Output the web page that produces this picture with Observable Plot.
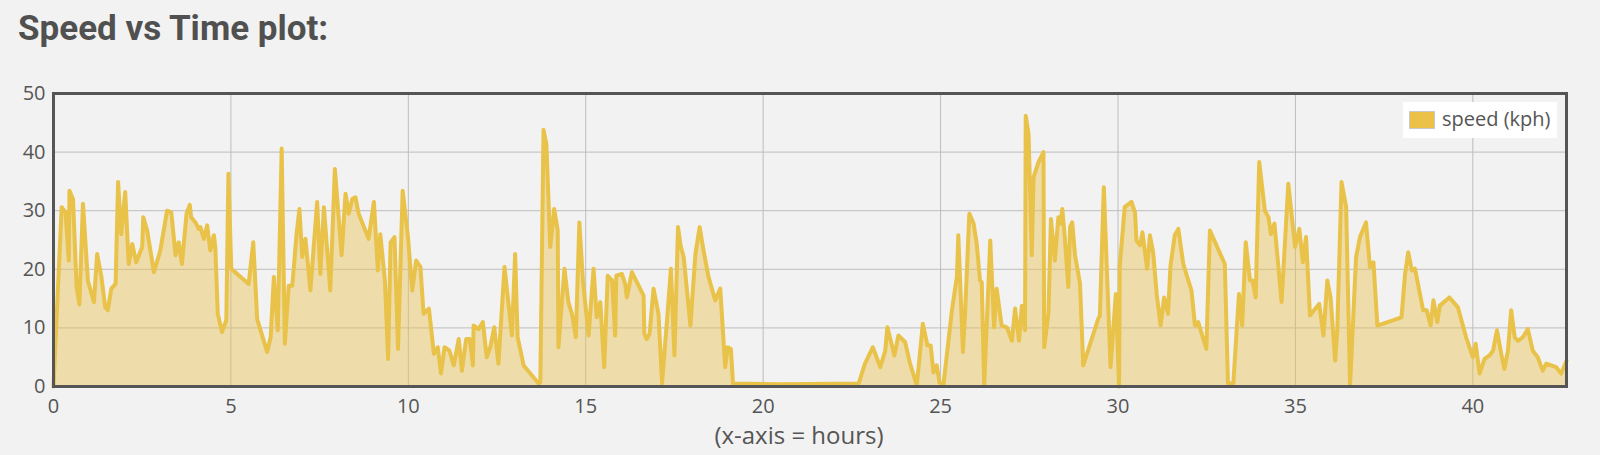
<!DOCTYPE html>
<html>
<head>
<meta charset="utf-8">
<script src="https://cdn.jsdelivr.net/npm/d3@7"></script>
<script src="https://cdn.jsdelivr.net/npm/@observablehq/plot@0.6"></script>
<style>
  html, body { margin: 0; padding: 0; background: #f2f2f2; }
  body { width: 1600px; height: 455px; position: relative; overflow: hidden; font-family: "Open Sans", sans-serif; }
  #title { height: 70px; position: relative; }
  #title span { position: absolute; left: 18px; top: 8px; font-family: "Roboto", sans-serif; font-weight: bold; font-size: 35px; color: #505050; white-space: nowrap; }
  #legend { position: absolute; left: 1403px; top: 102px; width: 154px; height: 36px; background: #fff; }
  #legend .sw { position: absolute; left: 6px; top: 9px; width: 24px; height: 16px; background: #ebc247; border: 1px solid #c9c9c9; }
  #legend .tx { position: absolute; left: 39px; top: 3px; font-size: 20px; color: #555; line-height: 28px; white-space: nowrap; }
</style>
</head>
<body>
<div id="title"><span>Speed vs Time plot:</span></div>
<div id="chart"></div>
<div id="legend"><div class="sw"></div><div class="tx">speed (kph)</div></div>
<script>
const hours = [0,0.23,0.34,0.43,0.45,0.55,0.65,0.73,0.83,0.97,1.14,1.23,1.35,1.46,1.53,1.63,1.75,1.82,1.91,2.02,2.12,2.22,2.33,2.5,2.53,2.64,2.83,3.01,3.2,3.32,3.44,3.53,3.62,3.75,3.84,3.88,4.0,4.09,4.14,4.24,4.33,4.42,4.52,4.56,4.63,4.75,4.87,4.93,5.01,5.5,5.63,5.74,6.02,6.12,6.21,6.32,6.43,6.52,6.63,6.73,6.85,6.93,7.01,7.1,7.24,7.43,7.52,7.62,7.8,7.93,8.12,8.23,8.32,8.42,8.51,8.6,8.88,9.03,9.14,9.21,9.34,9.43,9.5,9.61,9.71,9.84,9.99,10.11,10.22,10.34,10.43,10.58,10.72,10.83,10.92,11.02,11.16,11.28,11.42,11.51,11.63,11.73,11.82,11.84,11.98,12.1,12.21,12.31,12.42,12.54,12.71,12.92,13.01,13.08,13.25,13.67,13.72,13.81,13.89,14.0,14.11,14.21,14.23,14.4,14.51,14.61,14.72,14.82,14.92,15.08,15.22,15.31,15.41,15.52,15.62,15.74,15.83,15.86,16.02,16.11,16.16,16.3,16.63,16.65,16.72,16.8,16.91,17.05,17.15,17.29,17.4,17.5,17.6,17.67,17.76,17.95,18.09,18.21,18.32,18.46,18.65,18.79,18.93,19.0,19.09,19.15,20.5,22.69,22.87,23.09,23.3,23.44,23.5,23.7,23.81,24.0,24.14,24.33,24.5,24.63,24.72,24.8,24.89,24.97,25.08,25.32,25.46,25.5,25.63,25.69,25.81,25.93,26.02,26.11,26.16,26.23,26.4,26.51,26.58,26.72,26.87,27.01,27.1,27.21,27.29,27.38,27.4,27.48,27.57,27.62,27.76,27.9,27.92,28.04,28.11,28.22,28.32,28.38,28.43,28.5,28.6,28.65,28.71,28.79,28.93,29.02,29.44,29.49,29.6,29.79,29.94,30.03,30.05,30.19,30.38,30.48,30.52,30.62,30.69,30.82,30.9,30.99,31.09,31.2,31.3,31.41,31.48,31.6,31.7,31.84,31.98,32.07,32.17,32.26,32.49,32.59,33.01,33.1,33.25,33.41,33.5,33.6,33.72,33.79,33.88,33.98,34.14,34.24,34.31,34.41,34.61,34.8,34.99,35.11,35.21,35.3,35.41,35.67,35.79,35.9,35.99,36.12,36.18,36.3,36.43,36.54,36.71,36.82,36.99,37.1,37.2,37.31,37.99,38.09,38.18,38.28,38.37,38.6,38.7,38.81,38.89,39.0,39.07,39.34,39.58,39.81,40.0,40.08,40.19,40.33,40.47,40.57,40.68,40.8,40.89,40.99,41.08,41.18,41.27,41.41,41.55,41.69,41.83,41.97,42.07,42.21,42.35,42.49,42.64];
const speed = [0,30.6,29.7,21.5,33.4,32,17,14,31.2,18,14.4,22.6,18.7,13.5,13,16.7,17.5,34.9,26,33.2,20.9,24.3,21.2,23.8,28.9,26.6,19.5,23.2,30,29.7,22.4,24.6,20.9,29.5,31,28.9,28,26.9,27.2,25.2,27.5,23.2,25.8,23.8,12.4,9.3,11.3,36.3,20.1,17.5,24.6,11.5,5.9,8.4,18.7,9.6,40.6,7.3,17.2,17.2,26,30.3,22.1,25.2,16.4,31.5,19.2,30.6,16.4,37.1,22.4,32.9,29.5,32,32.3,29.5,25.2,31.5,19.8,26,18.1,4.7,24.6,25.5,6.4,33.4,25.5,16.4,21.5,20.4,12.4,13.3,5.6,6.7,2.2,6.7,6.1,3.6,8.1,2.7,8.1,8.1,3.6,10.4,9.8,11,5,6.7,10.1,3.9,20.4,8.7,22.6,8.4,3.6,0.5,0.7,43.8,41.4,23.8,30.3,26.6,6.7,20.1,14.4,12.4,8.4,28,18.1,8.7,20.1,11.8,14.4,3.3,18.9,18.1,8.7,18.9,19.2,17.5,15.2,19.5,15.5,9,8.1,9,16.7,12.4,0.5,11.3,20.1,5.3,27.2,24.1,22.1,10.4,22.6,27.2,23.2,18.7,14.7,16.7,3.3,6.7,6.4,0.5,0.4,0.5,3.9,6.7,3.3,6.1,10.1,5.3,8.7,7.6,3.9,0.2,10.7,7,7,2.4,3.6,0.7,0.2,13,18.7,25.8,5.9,12.4,29.5,27.8,24.3,18.1,17.8,0.2,24.9,10.1,16.7,10.4,10.1,7.8,13.3,7.8,13.8,9.6,46.2,43.1,22.4,35.7,38.3,40,6.7,12.4,28.6,21.5,28.9,27.8,30.3,25.5,17,27.2,28,22.4,17.5,3.6,11.5,12.1,34,3.3,15.8,0,20.6,30.6,31.5,29.7,24.9,24.1,26.3,20.1,25.8,22.9,15.8,10.4,15.2,12.4,20.6,25.8,26.9,20.9,18.1,16.4,10.4,11,6.4,26.6,20.9,0.5,0.5,15.8,10.4,24.6,18.1,18.1,15.2,38.3,30,28.9,26,27.8,14.4,34.6,23.8,26.9,21.2,25.5,12.1,14.1,8.7,18.1,15.2,4.4,9.6,34.9,30.6,0.2,22.1,25.5,28,20.4,21.2,10.4,11.8,19.2,22.9,19.8,20.1,13,13,10.4,14.7,11,13.8,15.2,13.5,8.4,5,7.3,2.2,4.7,5.3,6.1,9.6,5.6,3,6.1,13,8.4,7.8,8.4,9.8,6.1,5,2.7,3.9,3.6,3.3,2.2,4.4];
const xTicks = [0, 5, 10, 15, 20, 25, 30, 35, 40];
const yTicks = [0, 10, 20, 30, 40, 50];
const xLabel = "(x-axis = hours)";

const data = hours.map((h, i) => ({h, s: speed[i]}));
const gold = "#e9c24a";

const chart = Plot.plot({
  width: 1600,
  height: 385,
  marginTop: 23,
  marginBottom: 69,
  marginLeft: 53,
  marginRight: 34,
  style: {background: "transparent", fontFamily: "'Open Sans', sans-serif", fontSize: "20px", color: "#555"},
  x: {domain: [0, 42.64], ticks: xTicks, label: null},
  y: {domain: [0, 50], ticks: yTicks, label: null},
  marks: [
    Plot.gridX(xTicks, {stroke: "#bdbdbd", strokeOpacity: 1, strokeWidth: 1}),
    Plot.gridY(yTicks, {stroke: "#bdbdbd", strokeOpacity: 1, strokeWidth: 1}),
    Plot.areaY(data, {x: "h", y: "s", fill: gold, fillOpacity: 0.42}),
    Plot.lineY(data, {x: "h", y: "s", stroke: gold, strokeWidth: 4, strokeLinejoin: "round"}),
    Plot.frame({stroke: "#555", strokeWidth: 3}),
    Plot.axisX(xTicks, {tickSize: 0, tickPadding: 12, fontSize: 20, fill: "#555", label: null}),
    Plot.axisY(yTicks, {tickSize: 0, tickPadding: 8, fontSize: 20, fill: "#555", label: null}),
    Plot.text([xLabel], {frameAnchor: "bottom", dx: -11, dy: 57, fontSize: 24, fill: "#555"})
  ]
});
document.getElementById("chart").appendChild(chart);
</script>
</body>
</html>
